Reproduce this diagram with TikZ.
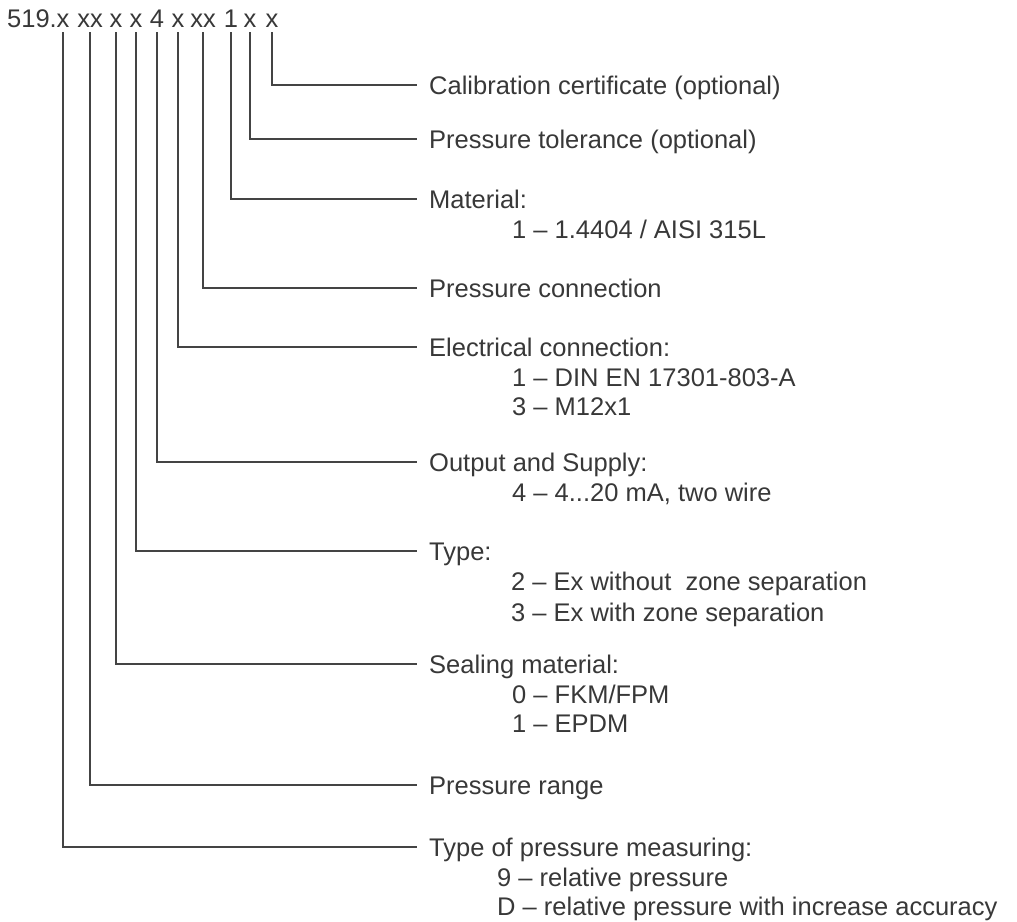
\documentclass[tikz,border=0pt]{standalone}
\usepackage{fontspec}
\setmainfont{Liberation Sans}
\definecolor{ink}{HTML}{383838}
\definecolor{wire}{HTML}{444444}
\begin{document}
\begin{tikzpicture}[x=1pt,y=-1pt,
  every node/.style={text=ink,font=\fontsize{25.5}{29}\selectfont},
  tok/.style={anchor=base,inner xsep=0pt,inner ysep=5pt},
  lab/.style={anchor=west,text height=18pt,text depth=0pt,inner ysep=0pt,inner xsep=12pt},
  sub/.style={anchor=west,text height=18pt,text depth=0pt,inner ysep=0pt,inner xsep=0pt},
  conn/.style={draw=wire,line width=1.5pt}]
\useasboundingbox (0,0) rectangle (1017,921);
% code string
\node[anchor=base east,inner sep=0pt] (t0) at (57,27) {519.};
\node[tok] (t1) at (63,27) {x};
\node[tok] (t2) at (90,27) {xx};
\node[tok] (t3) at (116,27) {x};
\node[tok] (t4) at (136,27) {x};
\node[tok] (t5) at (157,27) {4};
\node[tok] (t6) at (178,27) {x};
\node[tok] (t7) at (203,27) {xx};
\node[tok] (t8) at (231,27) {1};
\node[tok] (t9) at (250,27) {x};
\node[tok] (t10) at (272,27) {x};
% labels
\node[lab] (l10) at (417,85) {Calibration certificate (optional)};
\node[lab] (l9) at (417,139) {Pressure tolerance (optional)};
\node[lab] (l8) at (417,199) {Material:};
\node[sub] (s8a) at (512,229) {1 -- 1.4404 / AISI 315L};
\node[lab] (l7) at (417,288) {Pressure connection};
\node[lab] (l6) at (417,347) {Electrical connection:};
\node[sub] (s6a) at (512,377) {1 -- DIN EN 17301-803-A};
\node[sub] (s6b) at (512,406) {3 -- M12x1};
\node[lab] (l5) at (417,462) {Output and Supply:};
\node[sub] (s5a) at (512,492) {4 -- 4...20 mA, two wire};
\node[lab] (l4) at (417,551) {Type:};
\node[sub] (s4a) at (511,581) {2 -- Ex without\ \ zone separation};
\node[sub] (s4b) at (511,612) {3 -- Ex with zone separation};
\node[lab] (l3) at (417,664) {Sealing material:};
\node[sub] (s3a) at (512,694) {0 -- FKM/FPM};
\node[sub] (s3b) at (512,723) {1 -- EPDM};
\node[lab] (l2) at (417,785) {Pressure range};
\node[lab] (l1) at (417,847) {Type of pressure measuring:};
\node[sub] (s1a) at (497,877) {9 -- relative pressure};
\node[sub] (s1b) at (497,906) {D -- relative pressure with increase accuracy};
% connectors
\foreach \i in {1,...,10}{\draw[conn] (t\i.south) |- (l\i.west);}
\end{tikzpicture}
\end{document}
